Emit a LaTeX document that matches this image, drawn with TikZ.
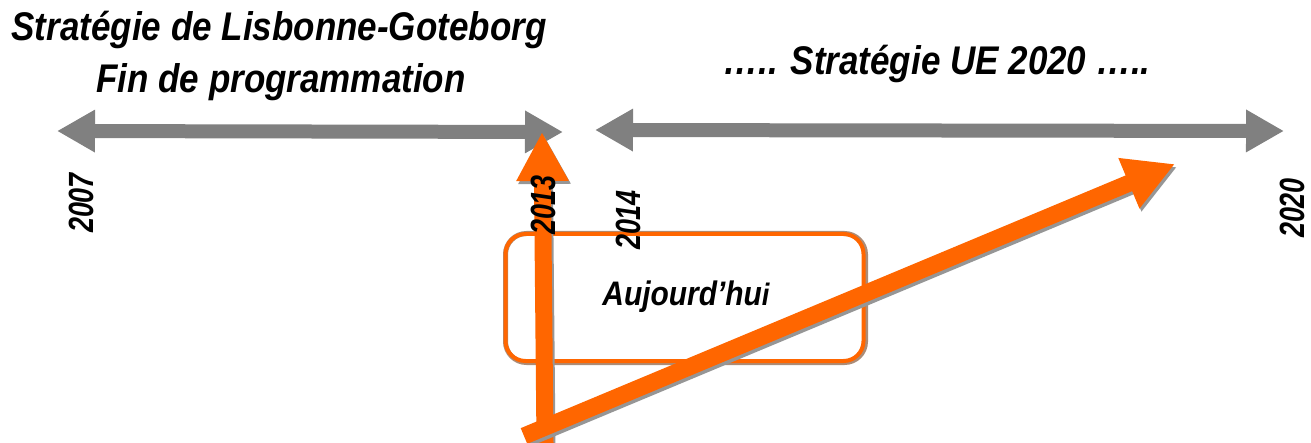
\documentclass[tikz,border=0pt]{standalone}
\usepackage{fontspec}
\setmainfont{Liberation Sans}
\usetikzlibrary{arrows.meta,calc}
\definecolor{ogray}{RGB}{128,128,128}
\definecolor{oorange}{RGB}{255,102,0}
\definecolor{oshadow}{RGB}{150,150,150}
\newcommand{\narrow}[2]{\scalebox{#1}[1]{#2}}
\tikzset{
  title/.style={font=\fontsize{40}{46}\selectfont\bfseries\itshape, inner sep=0pt, anchor=base},
  year/.style={font=\fontsize{35}{40}\selectfont\bfseries\itshape, inner sep=0pt, text depth=0pt, rotate=90, anchor=base},
  timeline/.style={draw=ogray, line width=14pt,
    {Triangle[length=38pt,width=40pt]}-{Triangle[length=38pt,width=40pt]}},
  bigarrow/.style={draw=oorange, line width=17pt, -{Triangle[length=#1]}},
  bigshadow/.style={draw=oshadow, line width=17pt, -{Triangle[length=#1]}},
  todaybox/.style={draw=oorange, line width=4pt, rounded corners=20pt},
}
\begin{document}
\begin{tikzpicture}[x=1pt,y=-1pt]
\useasboundingbox (0,0) rectangle (1311,443);
% coordinates
\coordinate (t1l) at (57,131);
\coordinate (t1r) at (563,132);
\coordinate (t2l) at (595,130);
\coordinate (t2r) at (1284,131);
\coordinate (vs) at (545,443);
\coordinate (ve) at (542,132);
\coordinate (ds) at (524,436);
\coordinate (de) at (1175,164);
% timelines
\draw[timeline] (t1l) -- (t1r);
\draw[timeline] (t2l) -- (t2r);
% box
\draw[draw=oshadow!80!oorange, line width=5pt, rounded corners=21pt] (505.5,233.5) rectangle (865.5,362.5);
\node[todaybox, minimum width=358pt, minimum height=127pt] (box) at (684.5,297.5) {};
\node[font=\fontsize{34}{40}\selectfont\bfseries\itshape, inner sep=0pt, anchor=base] (auj) at (686,306) {\narrow{0.88}{Aujourd’hu\fontsize{31}{36}\selectfont i}};
% orange arrows with shadows
\draw[bigshadow={49pt,width=49pt}] ($(vs)+(2,3)$) -- ($(ve)+(2,3)$);
\draw[bigarrow={49pt,width=49pt}] (vs) -- (ve);
\draw[bigshadow={50pt,width=51pt}] ($(ds)+(2,3)$) -- ($(de)+(2,3)$);
\draw[bigarrow={50pt,width=51pt}] (ds) -- (de);
% titles
\node[title] (l1) at (279,41) {\narrow{0.875}{Stratégie de Lisbonne-Goteborg}};
\node[title] (l2) at (281,93) {\narrow{0.875}{Fin de programmation}};
\node[title] (l3) at (937,75) {\narrow{0.875}{….. Stratégie UE 2020 …..}};
% years
\node[year] (y2007) at (93,203) {\narrow{0.77}{2007}};
\node[year] (y2013) at (555,205) {\narrow{0.77}{2013}};
\node[year] (y2014) at (640,220) {\narrow{0.77}{2014}};
\node[year] (y2020) at (1304,208) {\narrow{0.77}{2020}};
\end{tikzpicture}
\end{document}
